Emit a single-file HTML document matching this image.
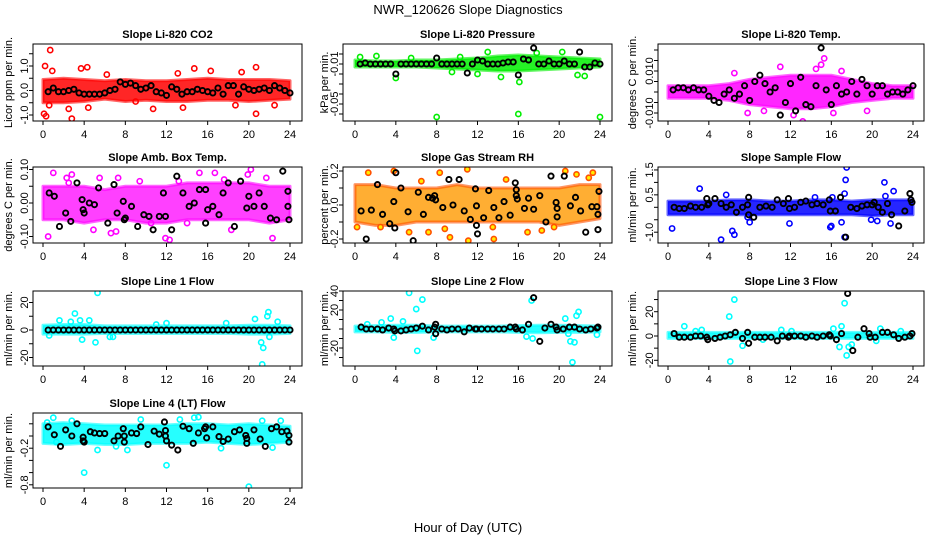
<!DOCTYPE html>
<html><head><meta charset="utf-8"><style>
html,body{margin:0;padding:0;background:#fff;}
svg{display:block;font-family:"Liberation Sans",Arial,sans-serif;}
</style></head><body>
<svg id="chart" width="936" height="540" viewBox="0 0 936 540" xmlns="http://www.w3.org/2000/svg">
<rect width="936" height="540" fill="#fff"/>
<text x="468" y="14" font-size="13" text-anchor="middle">NWR_120626  Slope Diagnostics</text>
<text x="468" y="532" font-size="13" text-anchor="middle">Hour of Day (UTC)</text>
</svg>
<script>
// ---- data ----
const hours = [0.5,1,1.5,2,2.5,3,3.5,4,4.5,5,5.5,6,6.5,7,7.5,8,8.5,9,9.5,10,10.5,11,11.5,12,12.5,13,13.5,14,14.5,15,15.5,16,16.5,17,17.5,18,18.5,19,19.5,20,20.5,21,21.5,22,22.5,23,23.5,24];
const bandHours = [0,2,4,6,8,10,12,14,16,18,20,22,24];
const xTicks = [0,4,8,12,16,20,24];

// P1 CO2
const p1BlackY = [-0.05,0.1,-0.05,-0.05,0,0.05,-0.1,-0.15,-0.15,-0.15,-0.15,-0.1,0,0.05,0.35,0.25,0.3,0.2,0.05,0.1,0.2,-0.05,-0.1,-0.2,0.15,0.05,-0.15,-0.05,-0.05,0.05,0,-0.05,-0.1,0.1,-0.15,0.2,0.2,-0.15,0.15,0.05,0,0.05,0.1,0,0.2,0.1,0,-0.1];
const p1BandLo = [-0.5,-0.5,-0.45,-0.35,-0.45,-0.4,-0.45,-0.45,-0.4,-0.4,-0.45,-0.4,-0.35];
const p1BandHi = [0.45,0.5,0.45,0.4,0.45,0.4,0.4,0.45,0.5,0.45,0.45,0.45,0.4];
const p1OutX = [0.7,0.1,0.2,0.3,2.8,4.3,3.7,2.5,20.7,20.7,14.7,10.7,13.6,0.6,22.5,0.9,13.1,19.3,16.3,4.4,6.2,9.0,18.7];
const p1OutY = [1.65,-0.95,1.0,-1.05,-1.15,0.95,0.9,-0.75,0.95,-0.95,0.9,-0.75,-0.7,-0.6,-0.6,0.8,0.7,0.75,0.8,-0.7,0.65,-0.45,-0.6];

// P2 Pressure
const p2BlackY = [-0.01,-0.009,-0.01,-0.01,-0.01,-0.01,-0.01,-0.02,-0.01,-0.01,-0.01,-0.01,-0.01,-0.01,-0.01,-0.004,-0.01,-0.01,-0.01,-0.01,-0.01,-0.019,-0.01,-0.006,-0.007,-0.01,-0.01,-0.01,-0.009,-0.008,-0.008,-0.021,-0.005,-0.006,0.006,-0.01,-0.01,-0.007,-0.01,-0.01,-0.007,-0.01,-0.01,0.002,-0.013,-0.013,-0.009,-0.01];
const p2BandLo = [-0.013,-0.013,-0.013,-0.013,-0.014,-0.015,-0.016,-0.017,-0.017,-0.016,-0.015,-0.014,-0.013];
const p2BandHi = [-0.006,-0.007,-0.007,-0.006,-0.006,-0.005,-0.004,-0.002,-0.001,-0.002,-0.003,-0.004,-0.005];
const p2OutX = [8,16,24,16.1,14.3,2.1,0.5,4,13,20.3,17.8,21.8,22.5,9.5,12,5.5,10.3];
const p2OutY = [-0.063,-0.06,-0.063,-0.028,-0.023,-0.002,-0.003,-0.024,0.002,0.002,0.001,-0.021,-0.022,-0.018,-0.02,-0.004,-0.003];

// P3 Li-820 Temp
const p3BlackY = [0.001,0.002,0.002,0.001,0.002,0.001,0.001,-0.002,-0.004,-0.005,-0.001,0.001,-0.003,-0.001,0.003,-0.004,0.005,0.008,0.004,0,0.002,-0.011,-0.005,0.004,-0.009,0.007,-0.006,-0.007,0.003,0.021,0.001,-0.006,0.003,-0.001,0,0.005,-0.001,0.006,0.003,-0.001,0.003,0.003,-0.001,0,0,-0.001,0.001,0.003];
const p3BandLo = [-0.003,-0.003,-0.003,-0.004,-0.006,-0.007,-0.008,-0.008,-0.007,-0.005,-0.004,-0.003,-0.003];
const p3BandHi = [0.003,0.003,0.003,0.004,0.006,0.007,0.008,0.008,0.008,0.006,0.004,0.003,0.003];
const p3OutX = [11,15,13.2,15.3,7.8,6.5,14.5,17,19.5,12.3,16.2,9.4];
const p3OutY = [0.012,0.013,-0.014,0.016,-0.01,0.009,0.011,0.01,-0.009,-0.011,-0.01,-0.009];

// P4 Amb Box Temp
const p4BlackX = [0.6,1.1,1.6,2.2,2.7,3.3,3.8,3.9,4,4.5,5,5.4,6.3,6.9,7.2,7.8,7.9,8,8.6,9.2,9.8,10.3,10.7,11.3,11.7,11.9,12.5,13,13.6,14.2,14.7,15.2,15.8,15.8,16,16.5,17.1,17.5,18,18.6,19.2,19.8,20,20.5,21,21.5,22.1,22.7,23.3,23.8,23.8,23.9];
const p4BlackY = [0.03,0.02,-0.07,-0.03,-0.055,0.06,0.01,-0.02,-0.03,0,-0.005,0.045,-0.06,0.055,-0.03,0.005,-0.05,-0.045,-0.01,-0.07,-0.035,-0.04,-0.08,-0.04,0.03,-0.04,-0.08,0.08,0.03,-0.01,0,0.04,0.04,-0.06,-0.02,-0.01,-0.035,0.03,0.06,-0.07,0.065,-0.015,0.02,-0.01,0.03,-0.01,-0.045,-0.05,0.095,0.035,-0.01,-0.05];
const p4BandLo = [-0.05,-0.05,-0.06,-0.05,-0.05,-0.06,-0.06,-0.05,-0.05,-0.05,-0.05,-0.06,-0.05];
const p4BandHi = [0.05,0.05,0.05,0.04,0.05,0.05,0.05,0.06,0.06,0.06,0.06,0.05,0.05];
const p4OutX = [1,0.5,2.3,2.8,5.5,6.6,7.1,7.3,11.9,12.3,15.2,16.7,20.2,22.3,18.3,19.9,4.9,9.4,2.5,10.5,14,17.6,21.7,13.2];
const p4OutY = [0.09,-0.1,0.075,0.085,0.075,-0.09,-0.085,0.075,-0.105,-0.11,0.09,0.09,0.1,-0.105,-0.08,0.085,-0.08,0.065,0.06,-0.06,-0.06,0.07,0.075,0.065];

// P5 Gas Stream RH
const p5BlackX = [0.6,1.1,1.6,2.2,2.7,3.4,3.8,3.9,4,4.5,5.2,5.7,6.2,6.7,7.2,7.6,7.8,7.9,8.6,9.2,9.6,10.2,10.7,11.3,11.8,11.9,11.9,12,12.6,13.1,13.6,14.1,14.6,15.2,15.7,15.8,15.8,15.9,16.6,17,17.5,18.1,18.7,19.2,19.7,19.8,19.8,20.5,21.1,21.6,22.1,22.6,23.2,23.7,23.8,23.8,23.9];
const p5BlackY = [-0.035,-0.2,-0.03,0.12,-0.055,-0.11,0.02,-0.135,0.19,0.1,-0.04,-0.21,0.075,-0.055,0.045,0.04,0.055,0.03,-0.015,0.15,0,0.15,-0.035,-0.085,0.095,-0.005,-0.12,-0.17,-0.075,0.085,-0.015,-0.075,0.02,-0.06,0.13,0.09,0.055,0.035,-0.02,0.04,-0.025,0.055,-0.1,0.17,0.015,-0.02,-0.07,0.17,-0.005,0.045,-0.035,-0.16,-0.01,-0.01,-0.055,-0.145,0.08];
const p5BandLo = [-0.1,-0.12,-0.12,-0.1,-0.1,-0.1,-0.1,-0.1,-0.1,-0.1,-0.12,-0.1,-0.08];
const p5BandHi = [0.12,0.12,0.1,0.1,0.1,0.12,0.1,0.1,0.1,0.1,0.1,0.12,0.12];
const p5OutX = [0.2,1.3,3.8,5.3,7.2,8.3,8.8,9.3,11,11.1,13.6,13.5,16.9,18.3,20.6,21.7,23.3,22.9,2.5,14.8,19.5,6.5];
const p5OutY = [-0.13,0.19,0.2,-0.16,-0.16,0.19,-0.14,-0.19,0.21,-0.21,-0.2,-0.13,-0.16,-0.15,0.2,0.18,0.19,0.16,-0.13,0.15,-0.13,0.14];

// P6 Sample Flow
const p6BlackX = [0.6,1.1,1.6,2.2,2.7,3.3,3.8,3.9,4,4.6,5.2,5.7,6.2,6.7,7.3,7.8,7.9,7.9,8.4,9,9.6,10.2,10.7,11.3,11.8,11.9,12.4,13,13.5,14.1,14.6,15.2,15.8,15.9,16.4,16.9,17.4,17.9,18.5,19,19.5,20,20.2,20.6,21,21.5,21.9,22.6,23.2,23.7,23.8,23.9];
const p6BlackY = [0,-0.05,-0.05,0.05,0,0,0.35,0.1,0.15,0.35,0.15,0,0.1,-0.2,0,0.1,0.4,-0.3,-0.4,0,0.05,0,0.3,0.15,0.35,-0.05,0,0.2,0.25,0.1,0.15,0.1,0.3,-0.15,-0.15,0.4,-1.2,0,-0.05,0.05,0.1,0.1,0.2,0,-0.2,0.15,-0.3,-0.75,-0.15,0.55,0.3,0.2];
const p6BandLo = [-0.3,-0.3,-0.3,-0.3,-0.3,-0.3,-0.3,-0.3,-0.3,-0.3,-0.35,-0.3,-0.3];
const p6BandHi = [0.25,0.25,0.25,0.3,0.3,0.25,0.25,0.3,0.3,0.25,0.3,0.3,0.3];
const p6OutX = [0.4,3.1,5.2,5.7,6.3,6.5,7.8,8,11.9,15.9,16,17,17.3,17.5,17.4,17.3,21.2,21.3,22.1,19.9,20.5,21.8,16.1,14.4];
const p6OutY = [-0.85,0.75,-1.3,0.5,-0.95,-1.1,-0.4,-0.6,-0.65,-0.8,-0.75,-0.6,0.55,1.6,1.1,-1.2,1.0,0.45,0.65,-0.5,-0.55,-0.65,0.4,0.4];

// P7 Line 1 Flow
const p7BlackY = [0,0,0,0,0,0,0,0,0,0,0,0,0,0,0,0,0,0,0,0,0,0,0,0,0,0,0,0,0,0,0,0,0,0,0,0,0,0,0,0,0,0,0,0,0,0,0,0];
const p7BandLo = [-3,-3,-3,-2.5,-2.5,-2.5,-2.5,-2.5,-2.5,-2.5,-3,-3,-2.5];
const p7BandHi = [3.5,4,4,3,3,3,3,3,3,3,3.5,3.5,3];
const p7OutX = [5.3,3.1,3.6,1.6,4.5,3.8,5.1,6.5,20.6,21.2,21.4,21.3,21.8,21.9,22.8,11,0.6,12,17.8,22,2.7,6.8];
const p7OutY = [27,12,7,7,7,-7,-9,-5,8,-9,-13,-25,10,13,6,4,-4,5,5,-5,6,-5];

// P8 Line 2 Flow
const p8BlackX = [0.6,1.1,1.6,2.2,2.7,3.3,3.8,3.9,4.5,5,5.5,6,6.6,7.2,7.8,7.9,7.9,8.5,9,9.5,10.1,10.7,11.2,11.8,11.9,12.4,13,13.5,14.1,14.6,15.2,15.7,15.8,16.4,17,17.5,18.1,18.6,19.2,19.7,19.8,20.4,21,21.5,22,22.6,23.1,23.7,23.8];
const p8BlackY = [2,0,0,0,-1,1,0,-2,-2,-1,0,1,3,-1,2,5,-5,0,-1,0,0,-3,1,0,0,0,0,0,0,0,2,2,0,-1,5,33,-13,1,5,2,-1,0,2,2,0,-1,0,1,2];
const p8BandLo = [-3,-3,-3.5,-3.5,-3,-3,-3,-3,-3.5,-4,-3.5,-3.5,-3];
const p8BandHi = [3,3.5,4,4,3,3,3,3,3.5,4,4,3.5,3];
const p8OutX = [5.3,6.6,6,6.1,17.3,21.3,21.9,21.7,20.6,21.1,21.5,3.5,3.8,7.7,16.8,17.4,2.6,23.7,20.9,4.7,1.2];
const p8OutY = [38,31,21,-23,30,-35,18,14,11,-13,-14,11,-9,-9,-8,-10,7,-6,-5,8,5];

// P9 Line 3 Flow
const p9BlackX = [0.6,1.1,1.6,2.2,2.7,3.2,3.8,3.9,4.6,5.1,5.6,6.1,6.6,7.3,7.8,7.9,8.5,9,9.5,10.1,10.7,11.2,11.8,11.9,12.4,13,13.5,14.1,14.6,15.2,15.8,15.9,16.5,17,17.6,18.1,18.6,19.2,19.7,19.8,20.3,21,21.5,22.1,22.6,23.2,23.7,23.9];
const p9BlackY = [2,-1,-1,-1,0,0,-1,-3,-2,-1,0,1,3,-2,3,-6,-1,-1,-1,-1,-4,0,-1,0,0,0,-1,0,-1,0,1,0,-3,2,35,-12,-1,6,2,-1,-1,3,3,1,-2,-1,0,2];
const p9BandLo = [-2,-2,-2,-2,-2,-2,-2,-2,-2,-2,-2,-2,-2];
const p9BandHi = [3,3,3,3,3,3,3,3,3,3,3,3,3];
const p9OutX = [6.5,6,6.1,1.6,17.3,17.5,17.7,16.8,17,18,7.3,20.8,16.2,11.1,12.1,3.3,20.4,2.7,22.8,9.3];
const p9OutY = [30,16,-21,8,27,-16,-9,-9,8,-7,-8,6,6,5,4,5,-4,4,4,-3];

// P10 Line 4 (LT) Flow
const p10BlackX = [0.5,1.1,1.7,2.2,2.8,3.3,3.9,3.9,4,4.6,5,5.5,6,6.9,7.3,7.8,7.9,7.9,8.6,9.1,9.5,10.2,10.8,11.3,11.8,11.9,11.9,12,12.5,13.1,13.6,14.2,14.6,15.1,15.7,15.8,15.9,16.5,17.1,17.5,18,18.6,19.1,19.7,19.8,19.8,20.5,21.1,21.6,22.2,22.7,23.2,23.7,23.9,23.9];
const p10BlackY = [0.15,0.02,-0.17,0.1,0,0.2,-0.02,-0.08,-0.1,0.07,0.05,0.04,0.04,-0.08,0,0.12,0,-0.1,0.05,0.04,0.15,-0.14,0.08,0.03,0.23,0.09,0,-0.08,-0.15,-0.23,0.16,0.12,-0.12,0.05,0.12,0.15,-0.03,0.15,-0.01,-0.09,-0.05,0.07,0.1,0.01,-0.04,-0.12,0.1,-0.05,-0.17,0.12,0.15,0.07,0.08,0.01,-0.1];
const p10BandLo = [-0.12,-0.14,-0.12,-0.14,-0.14,-0.12,-0.12,-0.12,-0.1,-0.12,-0.14,-0.12,-0.1];
const p10BandHi = [0.2,0.22,0.2,0.18,0.18,0.18,0.18,0.2,0.2,0.18,0.2,0.18,0.16];
const p10OutX = [1,0.4,2.8,4,12,20,5.3,13.3,14.7,15.1,9.5,21.3,23.1,1.3,7.1,8.2,17.3,22.3];
const p10OutY = [0.3,0.22,0.25,-0.6,-0.48,-0.83,-0.23,0.27,0.3,0.31,0.27,0.25,0.25,-0.1,-0.17,-0.23,-0.2,-0.19];

// ---- layout ----
const svg = document.getElementById('chart');
const NS = 'http://www.w3.org/2000/svg';
function mk(tag, attrs, parent){ const e=document.createElementNS(NS,tag); for(const k in attrs) e.setAttribute(k,attrs[k]); (parent||svg).appendChild(e); return e; }
const cols = [{L:33,R:302,x0:43,x24:290,yt:8},{L:343,R:612,x0:355,x24:600,yt:324},{L:658,R:924,x0:668,x24:913,yt:632}];
const rows = [{T:44,B:121},{T:167,B:243},{T:291,B:366},{T:413,B:488}];

const panels = [
 {name:'co2',title:'Slope Li-820 CO2',ylab:'Licor ppm per min.',c:0,r:0,z:90.5,s:24.5,ticks:[-1,-0.5,0,0.5,1,1.5],labels:[[-1,'-1.0'],[0,'0.0'],[1,'1.0']],color:'#ff0000',bx:hours,by:p1BlackY,lo:p1BandLo,hi:p1BandHi,ox:p1OutX,oy:p1OutY},
 {name:'pressure',title:'Slope Li-820 Pressure',ylab:'kPa per min.',c:1,r:0,z:54,s:1000,ticks:[0,-0.01,-0.02,-0.03,-0.04,-0.05,-0.06],labels:[[-0.01,'-0.01'],[-0.05,'-0.05']],color:'#00ee00',bx:hours,by:p2BlackY,lo:p2BandLo,hi:p2BandHi,ox:p2OutX,oy:p2OutY},
 {name:'li820-temp',title:'Slope Li-820 Temp.',ylab:'degrees C per min.',c:2,r:0,z:92,s:2100,ticks:[-0.01,-0.005,0,0.005,0.01,0.015,0.02],labels:[[0.01,'0.010'],[-0.01,'-0.010']],color:'#ff00ff',bx:hours,by:p3BlackY,lo:p3BandLo,hi:p3BandHi,ox:p3OutX,oy:p3OutY},
 {name:'amb-box-temp',title:'Slope Amb. Box Temp.',ylab:'degrees C per min.',c:0,r:1,z:203,s:335,ticks:[-0.1,-0.05,0,0.05,0.1],labels:[[-0.1,'-0.10'],[0,'0.00'],[0.1,'0.10']],color:'#ff00ff',bx:p4BlackX,by:p4BlackY,lo:p4BandLo,hi:p4BandHi,ox:p4OutX,oy:p4OutY,op:0.75},
 {name:'gas-stream-rh',title:'Slope Gas Stream RH',ylab:'percent per min.',c:1,r:1,z:205,s:170,ticks:[-0.2,-0.1,0,0.1,0.2],labels:[[-0.2,'-0.2'],[0,'0.0'],[0.2,'0.2']],color:'#ff9a00',ring:'#ff5000',bx:p5BlackX,by:p5BlackY,lo:p5BandLo,hi:p5BandHi,ox:p5OutX,oy:p5OutY,op:0.8},
 {name:'sample-flow',title:'Slope Sample Flow',ylab:'ml/min per min.',c:2,r:1,z:207.3,s:24.9,ticks:[-1,-0.5,0,0.5,1,1.5],labels:[[-1,'-1.0'],[0.5,'0.5'],[1.5,'1.5']],color:'#0000ff',bx:p6BlackX,by:p6BlackY,lo:p6BandLo,hi:p6BandHi,ox:p6OutX,oy:p6OutY},
 {name:'line1-flow',title:'Slope Line 1 Flow',ylab:'ml/min per min.',c:0,r:2,z:330,s:1.375,ticks:[-20,-10,0,10,20],labels:[[-20,'-20'],[0,'0'],[20,'20']],color:'#00ffff',bx:hours,by:p7BlackY,lo:p7BandLo,hi:p7BandHi,ox:p7OutX,oy:p7OutY},
 {name:'line2-flow',title:'Slope Line 2 Flow',ylab:'ml/min per min.',c:1,r:2,z:329,s:0.95,ticks:[-30,-20,-10,0,10,20,30,40],labels:[[-20,'-20'],[20,'20'],[40,'40']],color:'#00ffff',bx:p8BlackX,by:p8BlackY,lo:p8BandLo,hi:p8BandHi,ox:p8OutX,oy:p8OutY},
 {name:'line3-flow',title:'Slope Line 3 Flow',ylab:'ml/min per min.',c:2,r:2,z:336,s:1.215,ticks:[-20,-10,0,10,20,30],labels:[[-20,'-20'],[0,'0'],[20,'20']],color:'#00ffff',bx:p9BlackX,by:p9BlackY,lo:p9BandLo,hi:p9BandHi,ox:p9OutX,oy:p9OutY},
 {name:'line4-flow',title:'Slope Line 4 (LT) Flow',ylab:'ml/min per min.',c:0,r:3,z:436,s:61,ticks:[0.2,0,-0.2,-0.4,-0.6,-0.8],labels:[[-0.2,'-0.2'],[-0.8,'-0.8']],color:'#00ffff',bx:p10BlackX,by:p10BlackY,lo:p10BandLo,hi:p10BandHi,ox:p10OutX,oy:p10OutY}
];

panels.forEach(p=>{
  const C=cols[p.c], R=rows[p.r];
  const g = mk('g',{});
  
  
  const xs = h => C.x0 + (C.x24-C.x0)*h/24;
  const ys = v => p.z - v*p.s;
  const clip = 'clip-'+p.name;
  const cp = mk('clipPath',{id:clip},g); mk('rect',{x:C.L,y:R.T,width:C.R-C.L,height:R.B-R.T},cp);
  const plot = mk('g',{'clip-path':'url(#'+clip+')'},g);
  let pts=[]; bandHours.forEach((h,i)=>pts.push(xs(h)+','+ys(p.hi[i])));
  for(let i=bandHours.length-1;i>=0;i--) pts.push(xs(bandHours[i])+','+ys(p.lo[i]));
  const band = mk('polygon',{points:pts.join(' '),fill:p.color,'fill-opacity':p.op||0.85,stroke:p.ring||p.color,'stroke-width':3,'stroke-linejoin':'round','stroke-opacity':0.6},plot);
  
  
  p.ox.forEach((x,i)=>{
    const c = mk('circle',{cx:xs(x),cy:ys(p.oy[i]),r:2.6,fill:p.ring?'#ffee00':'none',stroke:p.ring||p.color,'stroke-width':1.6},plot);
    
    
  });
  p.bx.forEach((x,i)=>{
    const c = mk('circle',{cx:xs(x),cy:ys(p.by[i]),r:2.6,fill:'none',stroke:'#000','stroke-width':1.9},plot);
    
    
  });
  const box = mk('rect',{x:C.L,y:R.T,width:C.R-C.L,height:R.B-R.T,fill:'none',stroke:'#000','stroke-width':1},g);
  
  
  xTicks.forEach(t=>{
    mk('line',{x1:xs(t),x2:xs(t),y1:R.B,y2:R.B+4,stroke:'#000'},g);
    const tl = mk('text',{x:xs(t),y:R.B+17,'font-size':11,'text-anchor':'middle'},g);
    tl.textContent=t;
    
    
  });
  p.ticks.forEach(t=>{ const y=ys(t); if(y>=R.T-0.5&&y<=R.B+0.5) mk('line',{x1:C.L,x2:C.L-4,y1:y,y2:y,stroke:'#000'},g); });
  p.labels.forEach(([v,s])=>{
    const y=ys(v), x=C.L-5;
    const tl = mk('text',{x:x,y:y,'font-size':11,'text-anchor':'middle',transform:'rotate(-90 '+x+' '+y+')'},g);
    tl.textContent=s;
    
    
  });
  const cy=(R.T+R.B)/2;
  const yt = mk('text',{x:C.yt+4,y:cy,'font-size':11,'text-anchor':'middle',transform:'rotate(-90 '+(C.yt+4)+' '+cy+')'},g);
  yt.textContent=p.ylab;
  
  
  const pt = mk('text',{x:(C.L+C.R)/2,y:R.T-6,'font-size':11,'font-weight':'bold','text-anchor':'middle'},g);
  pt.textContent=p.title;
  
  
});
</script>
</body></html>
